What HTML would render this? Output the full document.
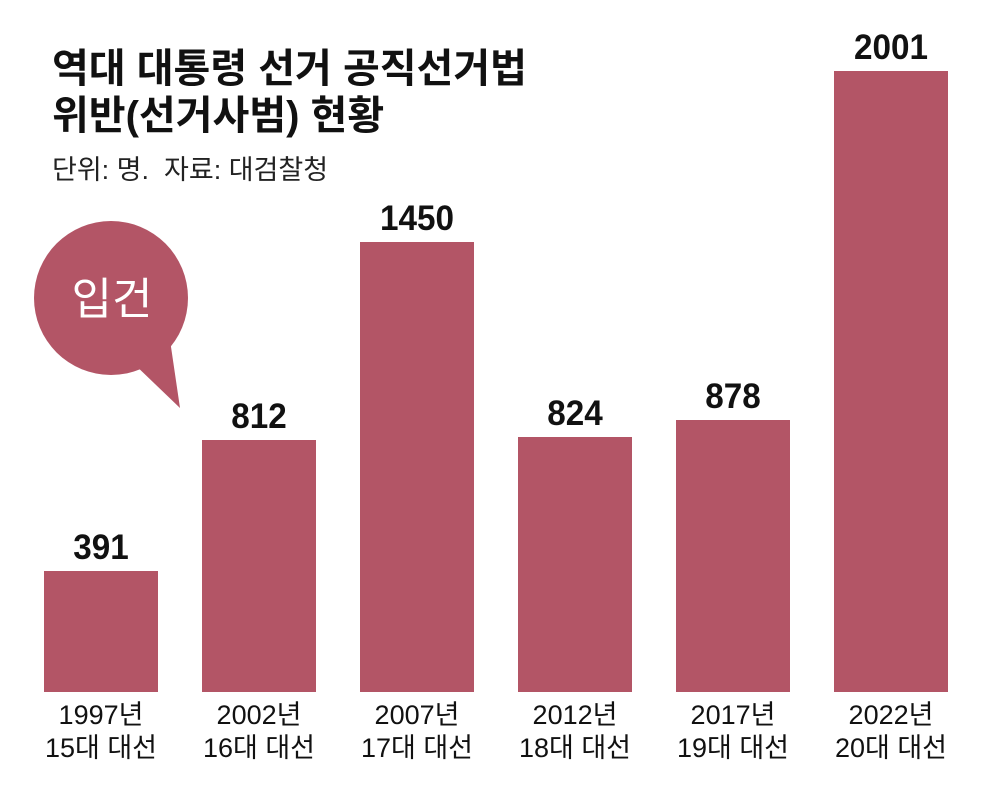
<!DOCTYPE html>
<html><head><meta charset="utf-8"><style>
body{margin:0;width:1000px;height:799px;background:#fff;position:relative;overflow:hidden;font-family:"Liberation Sans","Noto Sans CJK KR",sans-serif}
.t{position:absolute;left:52px;font-weight:bold;font-size:40px;color:#111;line-height:46px}
.bar{position:absolute;background:#b35566;width:114px;bottom:107px}
.v{position:absolute;width:114px;text-align:center;font-weight:bold;font-size:35px;color:#111;transform:scaleX(0.95)}
.l{position:absolute;width:160px;text-align:center;font-size:27px;color:#111;line-height:33px;top:699px}
</style></head><body>
<div class="t" style="top:46px">역대 대통령 선거 공직선거법</div>
<div class="t" style="top:93px">위반(선거사범) 현황</div>
<div style="position:absolute;left:52px;top:148px;font-size:27px;color:#222">단위: 명. &nbsp;자료: 대검찰청</div>
<svg style="position:absolute;left:0;top:0" width="1000" height="799">
<circle cx="111" cy="298" r="77" fill="#b35566"/>
<polygon points="130,360 170,340 180,408" fill="#b35566"/>
<text x="112" y="314" font-size="44" fill="#fff" text-anchor="middle" font-family="Liberation Sans,Noto Sans CJK KR,sans-serif">입건</text>
</svg>
<div class="bar" style="left:44px;top:571px"></div>
<div class="bar" style="left:202px;top:440px"></div>
<div class="bar" style="left:360px;top:242px"></div>
<div class="bar" style="left:518px;top:437px"></div>
<div class="bar" style="left:676px;top:420px"></div>
<div class="bar" style="left:834px;top:71px"></div>
<div class="v" style="left:44px;top:528px">391</div>
<div class="v" style="left:202px;top:397px">812</div>
<div class="v" style="left:360px;top:199px">1450</div>
<div class="v" style="left:518px;top:394px">824</div>
<div class="v" style="left:676px;top:377px">878</div>
<div class="v" style="left:834px;top:28px">2001</div>
<div class="l" style="left:21px">1997년<br>15대 대선</div>
<div class="l" style="left:179px">2002년<br>16대 대선</div>
<div class="l" style="left:337px">2007년<br>17대 대선</div>
<div class="l" style="left:495px">2012년<br>18대 대선</div>
<div class="l" style="left:653px">2017년<br>19대 대선</div>
<div class="l" style="left:811px">2022년<br>20대 대선</div>
</body></html>
